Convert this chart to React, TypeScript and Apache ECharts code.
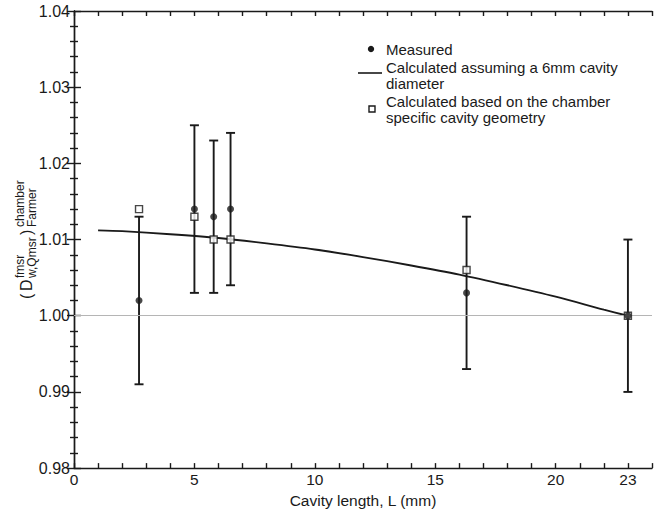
import React, { useEffect, useRef } from 'react';
import * as echarts from 'echarts';

const cavityLength = [2.7, 5.0, 5.8, 6.5, 16.3, 23.0];
const measured = [1.002, 1.014, 1.013, 1.014, 1.003, 1.0];
const errLow = [0.991, 1.003, 1.003, 1.004, 0.993, 0.99];
const errHigh = [1.013, 1.025, 1.023, 1.024, 1.013, 1.01];
const specificGeom = [1.014, 1.013, 1.01, 1.01, 1.006, 1.0];
const curveL = [1, 2, 4, 6, 8, 10, 12, 14, 16, 18, 20, 22, 23];
const curveV = [1.0112, 1.0111, 1.0107, 1.0102, 1.0095, 1.0087, 1.0077, 1.0066, 1.0054, 1.004, 1.0025, 1.0008, 1.0];
const xTickLabels = [0, 5, 10, 15, 20, 23];
const referenceLevel = 1.0;

const FONT = '"Liberation Sans", Arial, Helvetica, sans-serif';
const INK = '#1a1a1a';

function txt(text: string, x: number, y: number, fontSize: number) {
  return {
    type: 'text',
    x,
    y,
    silent: true,
    style: {
      text,
      fontSize,
      fontFamily: FONT,
      fill: INK,
      align: 'left',
      verticalAlign: 'middle',
      textAlign: 'left',
      textVerticalAlign: 'middle',
    },
  };
}

export default function App() {
  const ref = useRef<HTMLDivElement>(null);

  useEffect(() => {
    if (!ref.current) return;
    const chart = echarts.init(ref.current, null, { renderer: 'svg' });

    const axisLine = { show: true, lineStyle: { color: INK, width: 1.4 } };
    const tickStyle = { color: INK, width: 1.4 };

    const option: any = {
      animation: false,
      backgroundColor: '#ffffff',
      grid: { left: 74, right: 6, top: 11, bottom: 39, containLabel: false },
      xAxis: [
        {
          type: 'value',
          min: 0,
          max: 24,
          interval: 1,
          position: 'bottom',
          axisLine,
          axisTick: { show: true, inside: true, length: 5, lineStyle: tickStyle },
          axisLabel: {
            show: true,
            fontSize: 15.5,
            fontFamily: FONT,
            color: INK,
            margin: 3,
            formatter: (v: number) => (xTickLabels.includes(Math.round(v * 1000) / 1000) ? String(v) : ''),
          },
          splitLine: { show: false },
          name: 'Cavity length, L (mm)',
          nameLocation: 'middle',
          nameGap: 22,
          nameTextStyle: { fontSize: 15.5, fontFamily: FONT, color: INK },
        },
        {
          type: 'value',
          min: 0,
          max: 24,
          interval: 1,
          position: 'top',
          axisLine,
          axisTick: { show: true, inside: true, length: 5, lineStyle: tickStyle },
          axisLabel: { show: false },
          splitLine: { show: false },
        },
      ],
      yAxis: [
        {
          type: 'value',
          min: 0.98,
          max: 1.04,
          interval: 0.01,
          position: 'left',
          axisLine,
          axisTick: { show: true, inside: true, length: 7, lineStyle: tickStyle },
          minorTick: { show: true, splitNumber: 5, length: 4, lineStyle: tickStyle },
          axisLabel: {
            fontSize: 16,
            fontFamily: FONT,
            color: INK,
            margin: 4,
            formatter: (v: number) => v.toFixed(2),
          },
          splitLine: { show: false },
        },
        {
          type: 'value',
          min: 0.98,
          max: 1.04,
          interval: 0.01,
          position: 'right',
          axisLine,
          axisTick: { show: true, inside: true, length: 7, lineStyle: tickStyle },
          minorTick: { show: true, splitNumber: 5, length: 4, lineStyle: tickStyle },
          axisLabel: { show: false },
          splitLine: { show: false },
        },
      ],
      series: [
        {
          name: 'reference',
          type: 'line',
          data: [],
          markLine: {
            silent: true,
            symbol: 'none',
            label: { show: false },
            lineStyle: { color: '#b5b5b5', width: 1.2, type: 'solid' },
            data: [{ yAxis: referenceLevel }],
          },
        },
        {
          name: 'Calculated assuming a 6mm cavity diameter',
          type: 'line',
          data: curveL.map((l, i) => [l, curveV[i]]),
          showSymbol: false,
          smooth: 0.3,
          lineStyle: { color: INK, width: 1.9 },
          z: 3,
        },
        {
          name: 'error',
          type: 'custom',
          data: cavityLength.map((x, i) => [x, errLow[i], errHigh[i]]),
          encode: { x: 0, y: [1, 2] },
          renderItem: (params: any, api: any) => {
            const x = api.value(0);
            const pLo = api.coord([x, api.value(1)]);
            const pHi = api.coord([x, api.value(2)]);
            const hw = 4.5;
            const style = { stroke: INK, lineWidth: 1.9 };
            return {
              type: 'group',
              children: [
                { type: 'line', shape: { x1: pLo[0], y1: pLo[1], x2: pHi[0], y2: pHi[1] }, style },
                { type: 'line', shape: { x1: pLo[0] - hw, y1: pLo[1], x2: pLo[0] + hw, y2: pLo[1] }, style },
                { type: 'line', shape: { x1: pHi[0] - hw, y1: pHi[1], x2: pHi[0] + hw, y2: pHi[1] }, style },
              ],
            };
          },
          z: 4,
        },
        {
          name: 'Calculated based on the chamber specific cavity geometry',
          type: 'scatter',
          data: cavityLength.map((x, i) => [x, specificGeom[i]]),
          symbol: 'rect',
          symbolSize: 7,
          itemStyle: { color: '#ffffff', borderColor: INK, borderWidth: 1.4 },
          z: 5,
        },
        {
          name: 'Measured',
          type: 'scatter',
          data: cavityLength.map((x, i) => [x, measured[i]]),
          symbol: 'circle',
          symbolSize: 7,
          itemStyle: { color: INK },
          z: 6,
        },
      ],
      graphic: [
        // legend
        { type: 'circle', shape: { cx: 371, cy: 49, r: 3.2 }, style: { fill: INK }, silent: true },
        txt('Measured', 386, 49, 15),
        { type: 'line', shape: { x1: 358, y1: 73, x2: 382, y2: 73 }, style: { stroke: INK, lineWidth: 1.6 }, silent: true },
        txt('Calculated assuming a 6mm cavity', 386, 67, 15),
        txt('diameter', 386, 83, 15),
        { type: 'rect', shape: { x: 369, y: 106, width: 6, height: 6 }, style: { fill: '#fff', stroke: INK, lineWidth: 1.4 }, silent: true },
        txt('Calculated based on the chamber', 386, 101, 15),
        txt('specific cavity geometry', 386, 117, 15),
        // y-axis title
        {
          type: 'group',
          x: 26,
          y: 241,
          rotation: Math.PI / 2,
          children: [
            txt('(', -58, 0, 16),
            txt('D', -50, 0, 16),
            txt('fmsr', -37, -6.5, 12),
            txt('w,Qmsr', -37, 6, 12),
            txt(')', 6, 0, 16),
            txt('chamber', 14, -6.5, 12),
            txt('Farmer', 14, 6, 12),
          ],
        },
      ],
    };

    chart.setOption(option);
    return () => chart.dispose();
  }, []);

  return <div ref={ref} style={{ width: 658, height: 513, position: 'absolute', left: 0, top: 0, background: '#fff' }} />;
}
